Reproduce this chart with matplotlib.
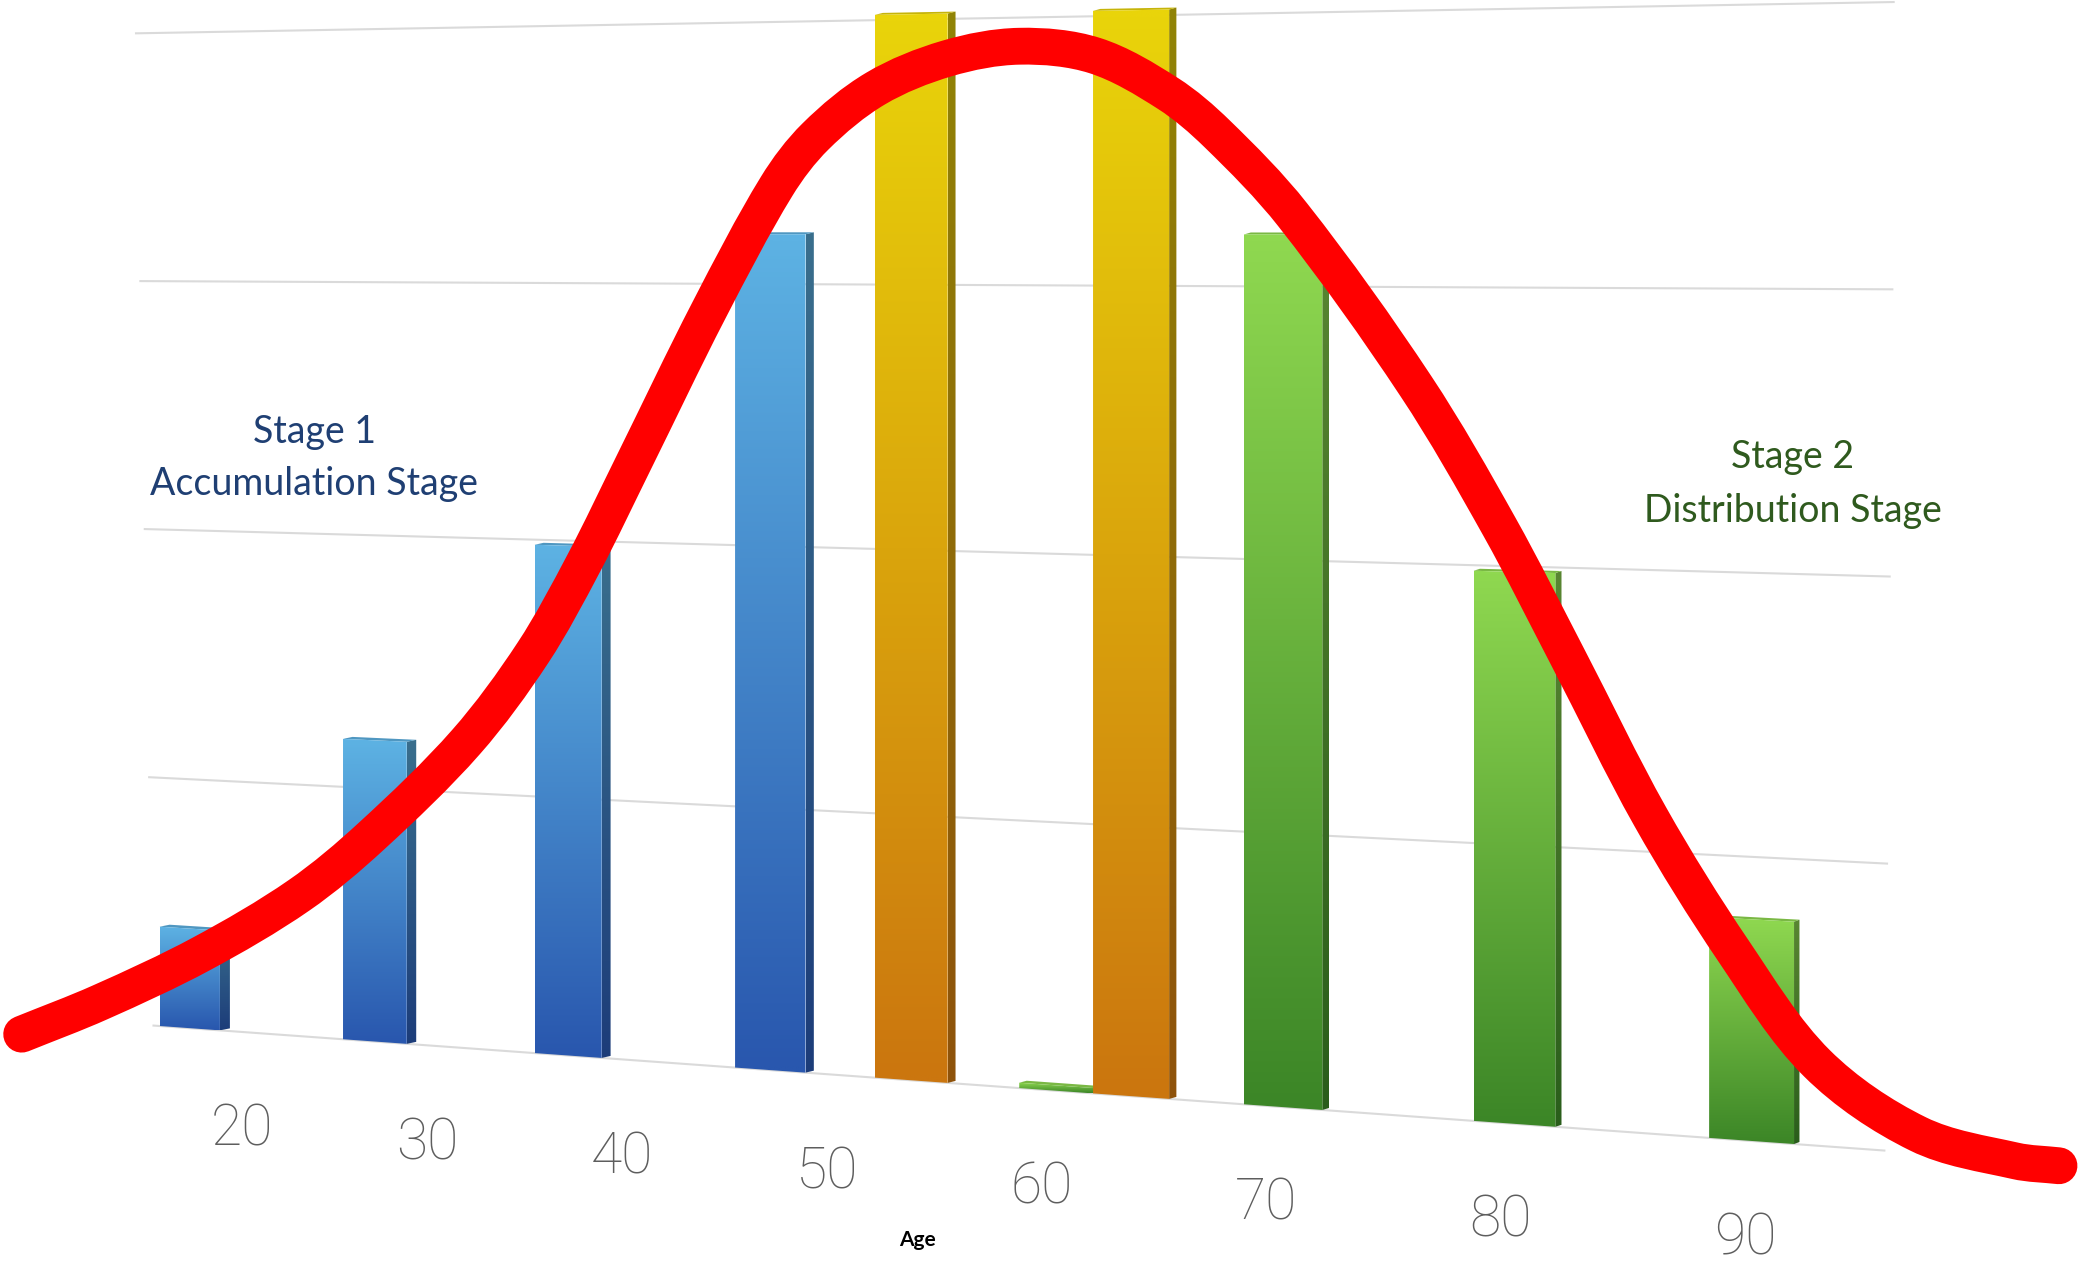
import numpy as np
import matplotlib.pyplot as plt
from matplotlib.path import Path
from matplotlib.patches import Polygon, PathPatch
from matplotlib.colors import to_rgb

# bars: position on the age axis, height in gridline units, colour group
bar_age = [20, 29.7, 39.3, 48.85, 55.25, 61.65, 64.85, 71.25, 80.65, 89.9]
bar_val = [0.40, 1.19, 1.98, 3.19, 4.02, 0.02, 4.02, 3.19, 1.98, 0.78]
bar_grp = ['blue', 'blue', 'blue', 'blue', 'gold', 'green', 'gold', 'green', 'green', 'green']

tick_ages = [20, 30, 40, 50, 60, 70, 80, 90]

# red bell curve (age, value)
curve_age = [10.7, 15.1, 20.6, 25.8, 29.52, 34.3, 37.6, 40.05, 42.45, 46.0, 49.15, 50.93,
             53.65, 56.84, 60.03, 63.3, 66.43, 68.5, 71.65, 76.7, 80.05, 82.75, 86.0,
             89.2, 92.4, 96.2, 99.8, 101.4]
curve_val = [-0.074, 0.078, 0.300, 0.560, 0.810, 1.200, 1.560, 1.912, 2.307, 2.897, 3.373,
             3.562, 3.741, 3.851, 3.893, 3.854, 3.710, 3.560, 3.262, 2.641, 2.141, 1.683,
             1.124, 0.667, 0.288, 0.066, -0.003, -0.009]

colors = {
    'blue':  ('#5DB2E3', '#2957AE'),
    'gold':  ('#E9D40A', '#CB760F'),
    'green': ('#8FD850', '#3C8627'),
}

W, H = 1568, 957  # drawing space, saved at 2079x1269


# tilted 3d-ish view: age -> screen x, (x, value) -> screen y
def proj_x(age):
    d = np.asarray(age, float) - 20
    return 143 + 14 * d + 0.0408 * d ** 2


def proj_y(x, v):
    return 773 + 0.0722 * (x - 110) - v * (187 + 0.0225 * (x - 110))


def shade(c, f):
    return tuple(min(1, k * f) for k in to_rgb(c))


fig = plt.figure(figsize=(20.79, 12.69), dpi=100, facecolor='white')
ax = fig.add_axes([0, 0, 1, 1])


def grad_fill(verts, top, bot, zorder):
    verts = np.array(verts)
    poly = Polygon(verts, closed=True, fc='none', ec='none')
    ax.add_patch(poly)
    t = np.linspace(0, 1, 64)[:, None]
    img = (np.array(to_rgb(top)) * (1 - t) + np.array(to_rgb(bot)) * t)[:, None, :]
    im = ax.imshow(img, extent=(verts[:, 0].min(), verts[:, 0].max(), verts[:, 1].max(), verts[:, 1].min()),
                   origin='upper', aspect='auto', interpolation='bilinear', zorder=zorder)
    im.set_clip_path(poly)


# gridlines
for v in range(5):
    x0 = 115 - 3.3 * v
    x1 = min(1422 + 2 * v, 1429)
    ax.plot([x0, x1], [proj_y(x0, v), proj_y(x1, v)], color='#dadada', lw=1.5, zorder=1,
            solid_capstyle='butt')

# bars
half = 3.25 / 2
for age, val, grp in zip(bar_age, bar_val, bar_grp):
    xl, xr = proj_x(age - half), proj_x(age + half)
    top, bot = colors[grp]
    dx = 7.6 - 0.0029 * (xr - 143)
    dy = 1.5
    front = [(xl, proj_y(xl, 0)), (xr, proj_y(xr, 0)), (xr, proj_y(xr, val)), (xl, proj_y(xl, val))]
    side = [(xr, proj_y(xr, 0)), (xr + dx, proj_y(xr, 0) - dy),
            (xr + dx, proj_y(xr, val) - dy), (xr, proj_y(xr, val))]
    lid = [(xl, proj_y(xl, val)), (xr, proj_y(xr, val)),
           (xr + dx, proj_y(xr, val) - dy), (xl + dx, proj_y(xl, val) - dy)]
    grad_fill(side, shade(top, 0.62), shade(bot, 0.7), 2)
    ax.add_patch(Polygon(lid, fc=shade(top, 0.85), ec='none', zorder=2))
    grad_fill(front, top, bot, 3)

# red curve: bezier through the read points, tangents from chord lengths
cx = proj_x(curve_age)
cy = proj_y(cx, np.array(curve_val))
pts = np.column_stack([cx, cy])
n = len(pts)
t = np.concatenate([[0], np.cumsum(np.hypot(*np.diff(pts, axis=0).T))])
tan = np.zeros_like(pts)
tan[0] = (pts[1] - pts[0]) / (t[1] - t[0])
tan[-1] = (pts[-1] - pts[-2]) / (t[-1] - t[-2])
for i in range(1, n - 1):
    tan[i] = (pts[i + 1] - pts[i - 1]) / (t[i + 1] - t[i - 1])
verts = [pts[0]]
codes = [Path.MOVETO]
for i in range(n - 1):
    h = (t[i + 1] - t[i]) / 3
    verts += [pts[i] + tan[i] * h, pts[i + 1] - tan[i + 1] * h, pts[i + 1]]
    codes += [Path.CURVE4] * 3
ax.add_patch(PathPatch(Path(verts, codes), fc='none', ec='#ff0000', lw=26.5,
                       capstyle='round', joinstyle='round', zorder=10))

# age labels on the floor
for age in tick_ages:
    x = proj_x(22.8 + 0.955 * (age - 20))
    ax.text(x, proj_y(x, 0) + 86, str(age), ha='center', va='baseline', fontsize=41,
            family='Roboto', fontweight='light', color='#5e5e5e', zorder=4)

ax.text(692, 935, 'Age', ha='center', va='center', fontsize=15, family='Lato',
        fontweight='bold', color='black', zorder=4)

ax.text(237, 326, 'Stage 1', ha='center', va='center', fontsize=27, family='Lato',
        color='#1F3F73', zorder=4)
ax.text(237, 365, 'Accumulation Stage', ha='center', va='center', fontsize=27, family='Lato',
        color='#1F3F73', zorder=4)
ax.text(1352, 345, 'Stage 2', ha='center', va='center', fontsize=27, family='Lato',
        color='#2F5A1E', zorder=4)
ax.text(1352, 385, 'Distribution Stage', ha='center', va='center', fontsize=27, family='Lato',
        color='#2F5A1E', zorder=4)

ax.set_xlim(0, W)
ax.set_ylim(H, 0)
ax.axis('off')
fig.savefig('out.png', dpi=100, facecolor='white')
